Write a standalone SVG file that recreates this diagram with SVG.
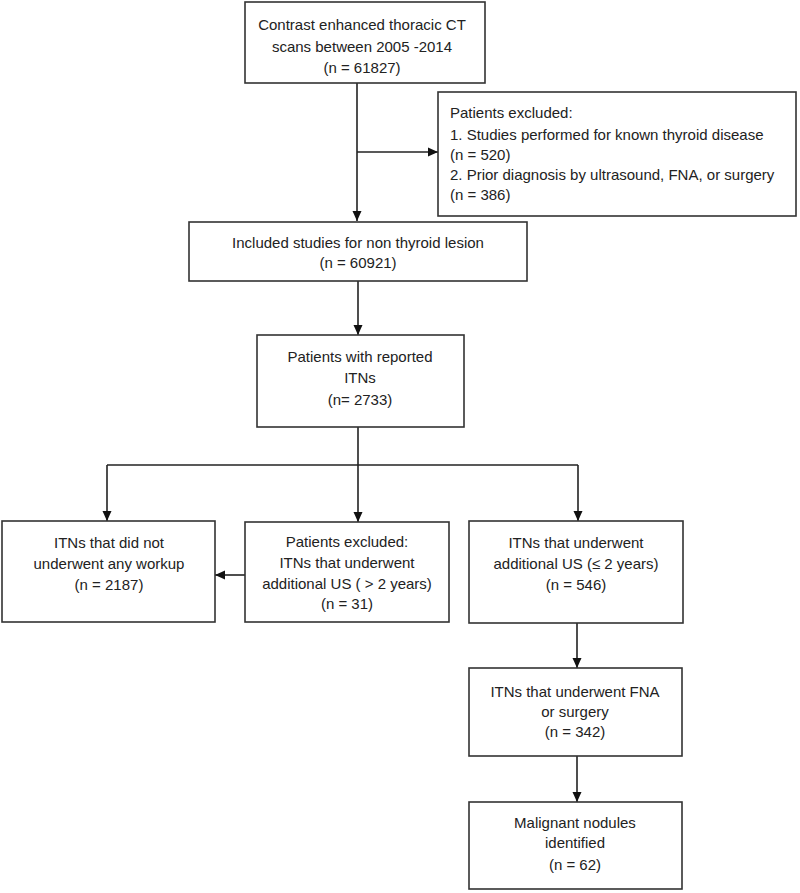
<svg xmlns="http://www.w3.org/2000/svg" width="800" height="893" viewBox="0 0 800 893">
<style>
.box{fill:#fff;stroke:#333;stroke-width:1.6}
.t{font-family:"Liberation Sans",Arial,sans-serif;font-size:15px;fill:#222;text-anchor:middle}
.tl{font-family:"Liberation Sans",Arial,sans-serif;font-size:15px;fill:#222;text-anchor:start}
.c{fill:none;stroke:#222;stroke-width:1.6}
</style>
<defs>
<marker id="ah" markerUnits="userSpaceOnUse" markerWidth="10" markerHeight="10" viewBox="0 0 10 10" refX="10" refY="5" orient="auto">
<path d="M0,0.5 L10,5 L0,9.5 Z" fill="#111"/>
</marker>
</defs>
<rect width="800" height="893" fill="#fff"/>
<g id="connectors">
<line class="c" x1="357" y1="83" x2="357" y2="221" marker-end="url(#ah)"/>
<line class="c" x1="357" y1="152" x2="438" y2="152" marker-end="url(#ah)"/>
<line class="c" x1="358" y1="281" x2="358" y2="335" marker-end="url(#ah)"/>
<line class="c" x1="358" y1="427" x2="358" y2="465"/>
<line class="c" x1="107" y1="465" x2="578" y2="465"/>
<line class="c" x1="107" y1="465" x2="107" y2="521" marker-end="url(#ah)"/>
<line class="c" x1="358" y1="465" x2="358" y2="522" marker-end="url(#ah)"/>
<line class="c" x1="578" y1="465" x2="578" y2="521" marker-end="url(#ah)"/>
<line class="c" x1="245" y1="575" x2="215" y2="575" marker-end="url(#ah)"/>
<line class="c" x1="577" y1="623" x2="577" y2="668" marker-end="url(#ah)"/>
<line class="c" x1="577" y1="756" x2="577" y2="802" marker-end="url(#ah)"/>
</g>
<g id="n_ct">
<rect class="box" x="245" y="2" width="240" height="81"/>
<text class="t" x="362" y="30">Contrast enhanced thoracic CT</text>
<text class="t" x="362" y="52">scans between  2005 -2014</text>
<text class="t" x="362" y="73">(n = 61827)</text>
</g>
<g id="n_excl1">
<rect class="box" x="438" y="92" width="358" height="124"/>
<text class="tl" x="450" y="118">Patients excluded:</text>
<text class="tl" x="450" y="140">1. Studies performed  for known thyroid disease</text>
<text class="tl" x="450" y="160">(n = 520)</text>
<text class="tl" x="450" y="180">2. Prior diagnosis by ultrasound, FNA, or surgery</text>
<text class="tl" x="450" y="200">(n = 386)</text>
</g>
<g id="n_included">
<rect class="box" x="189" y="222" width="338" height="59"/>
<text class="t" x="358" y="248">Included studies for non thyroid lesion</text>
<text class="t" x="358" y="268">(n = 60921)</text>
</g>
<g id="n_itns">
<rect class="box" x="257" y="335" width="207" height="92"/>
<text class="t" x="360" y="362">Patients with reported</text>
<text class="t" x="360" y="383">ITNs</text>
<text class="t" x="360" y="405">(n= 2733)</text>
</g>
<g id="n_noworkup">
<rect class="box" x="2" y="521" width="213" height="101"/>
<text class="t" x="109" y="548">ITNs that did not</text>
<text class="t" x="109" y="569">underwent any workup</text>
<text class="t" x="109" y="590">(n = 2187)</text>
</g>
<g id="n_excl2">
<rect class="box" x="245" y="522" width="204" height="100"/>
<text class="t" x="347" y="547">Patients excluded:</text>
<text class="t" x="347" y="568">ITNs that underwent</text>
<text class="t" x="347" y="589">additional US ( &gt; 2 years)</text>
<text class="t" x="347" y="609">(n = 31)</text>
</g>
<g id="n_us">
<rect class="box" x="469" y="521" width="214" height="102"/>
<text class="t" x="576" y="548">ITNs that underwent</text>
<text class="t" x="576" y="569">additional US (≤ 2 years)</text>
<text class="t" x="576" y="590">(n = 546)</text>
</g>
<g id="n_fna">
<rect class="box" x="469" y="668" width="213" height="88"/>
<text class="t" x="575" y="697">ITNs that underwent  FNA</text>
<text class="t" x="575" y="717">or surgery</text>
<text class="t" x="575" y="737">(n = 342)</text>
</g>
<g id="n_malig">
<rect class="box" x="469" y="802" width="213" height="87"/>
<text class="t" x="575" y="828">Malignant nodules</text>
<text class="t" x="575" y="848">identified</text>
<text class="t" x="575" y="870">(n = 62)</text>
</g>
</svg>
